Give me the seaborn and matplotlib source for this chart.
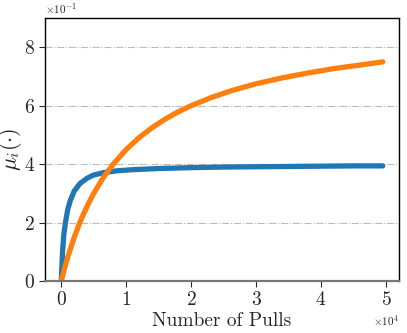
import seaborn as sns
import matplotlib.pyplot as plt
import pandas as pd
import numpy as np

# values (x in pulls, y = mu_i)
blue_x = [0, 100, 200, 400, 700, 1000, 1400, 2000, 2900, 4000, 4900, 6500, 8500,
          11000, 15000, 20000, 25000, 30000, 35000, 40000, 45000, 49500]
blue_y = [0.0, 0.05, 0.10, 0.16, 0.207, 0.245, 0.276, 0.308, 0.334, 0.352, 0.362,
          0.371, 0.377, 0.381, 0.385, 0.388, 0.390, 0.391, 0.392, 0.393, 0.394, 0.394]

orange_x = [0, 500, 1000, 2000, 3000, 4000, 5000, 6500, 8000, 10000, 12000, 14000,
            16000, 18000, 20000, 23000, 26000, 30000, 34000, 38000, 42000, 46000, 49500]
orange_y = [0.0, 0.043, 0.082, 0.150, 0.208, 0.257, 0.300, 0.355, 0.400, 0.450, 0.491,
            0.525, 0.554, 0.579, 0.600, 0.627, 0.650, 0.675, 0.695, 0.712, 0.727, 0.739, 0.750]

df = pd.concat([
    pd.DataFrame({"pulls": blue_x, "mu": blue_y, "arm": "a"}),
    pd.DataFrame({"pulls": orange_x, "mu": orange_y, "arm": "b"}),
])

sns.set_style("ticks")
plt.rcParams["font.family"] = "serif"
plt.rcParams["font.serif"] = ["cmr10"]
plt.rcParams["mathtext.fontset"] = "cm"
plt.rcParams["axes.unicode_minus"] = False
plt.rcParams["axes.formatter.use_mathtext"] = True

fig = plt.figure(figsize=(4.07, 3.33), dpi=100)
ax = fig.add_axes([0.111, 0.156, 0.869, 0.790])

sns.lineplot(data=df, x="pulls", y="mu", hue="arm", palette=["#1f77b4", "#ff7f0e"],
             linewidth=3.8, legend=False, ax=ax, sort=False)

ax.set_ylim(0, 0.9)
ax.set_yticks([0, 0.2, 0.4, 0.6, 0.8])
ax.set_xticks([0, 10000, 20000, 30000, 40000, 50000])
ax.ticklabel_format(style="sci", axis="both", scilimits=(0, 0))
ax.yaxis.grid(True, linestyle="-.", color="#bbbbbb", linewidth=0.8)
ax.set_axisbelow(True)

ax.tick_params(labelsize=14, direction="out", length=4)
ax.xaxis.get_offset_text().set_fontsize(8)
ax.yaxis.get_offset_text().set_fontsize(8)
ax.set_xlabel("Number of Pulls", fontsize=14, labelpad=2)
ax.set_ylabel(r"$\mu_i(\cdot)$", fontsize=16, labelpad=0)

for s in ax.spines.values():
    s.set_color("black")
    s.set_linewidth(1.0)
ax.spines["bottom"].set_color("#777777")
ax.spines["bottom"].set_linewidth(1.6)

fig.savefig("out.png", dpi=100)
